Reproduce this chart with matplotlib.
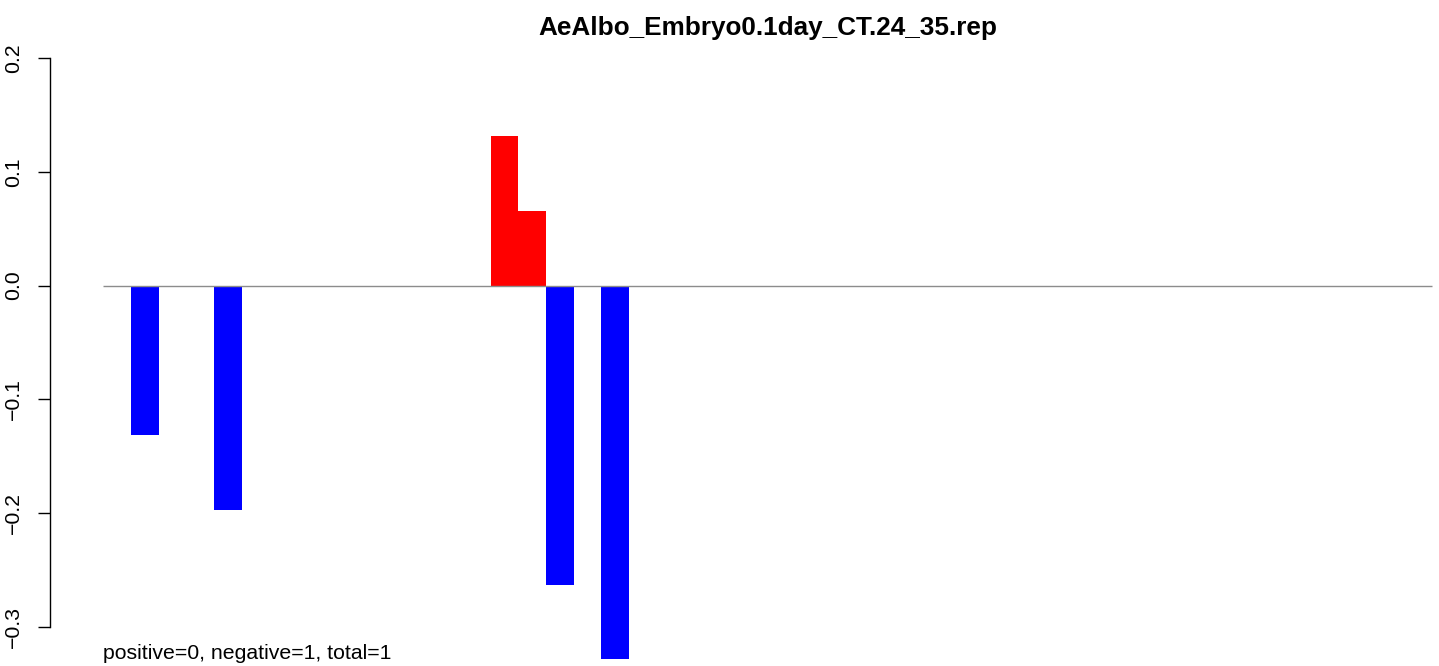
import numpy as np
import matplotlib.pyplot as plt

plt.rcParams['font.family'] = ['Liberation Sans', 'DejaVu Sans']

# data: one value per slot (48 slots), most are empty
n_slots = 48
bar_index = [1, 4, 14, 15, 16, 18]
bar_value = [-0.1314, -0.1971, 0.1314, 0.0657, -0.2628, -0.3285]
title = 'AeAlbo_Embryo0.1day_CT.24_35.rep'
note = 'positive=0, negative=1, total=1'
yticks = [-0.3, -0.2, -0.1, 0.0, 0.1, 0.2]

values = np.zeros(n_slots)
values[bar_index] = bar_value
colors = ['red' if v > 0 else 'blue' for v in values]

W, H = 1439, 666
fig = plt.figure(figsize=(W / 100, H / 100), dpi=100)

# plot region in pixels (R style, right side runs past the figure)
left_px, right_px = 50, 1485
top_px, bottom_px = 40, 666
ax = fig.add_axes([left_px / W, 0, (right_px - left_px) / W, (bottom_px - top_px) / H])

ax.bar(np.arange(n_slots), values, width=1.0, align='edge', color=colors, linewidth=0)
ax.hlines(0, 0, n_slots, color='#8c8c8c', linewidth=1.0)

pad = 0.04 * n_slots
ax.set_xlim(-pad, n_slots + pad)
ax.set_ylim(-0.3343, 0.2158)

for s in ['top', 'right', 'bottom']:
    ax.spines[s].set_visible(False)
ax.spines['left'].set_bounds(-0.3, 0.2)
ax.spines['left'].set_linewidth(1.0)
ax.set_xticks([])
ax.set_yticks(yticks)
ax.set_yticklabels([f'{t:.1f}'.replace('-', '\u2212') for t in yticks],
                   rotation=90, va='center', fontsize=15.3)
ax.tick_params(axis='y', length=8.6, width=1.0, pad=11)

ax.text(0, -0.328, note, fontsize=15.3, ha='left', va='baseline')
fig.text((left_px + right_px) / 2 / W, (H - 35) / H, title, fontsize=18.8,
         fontweight='bold', ha='center', va='baseline')

fig.savefig('out.png', dpi=100)
